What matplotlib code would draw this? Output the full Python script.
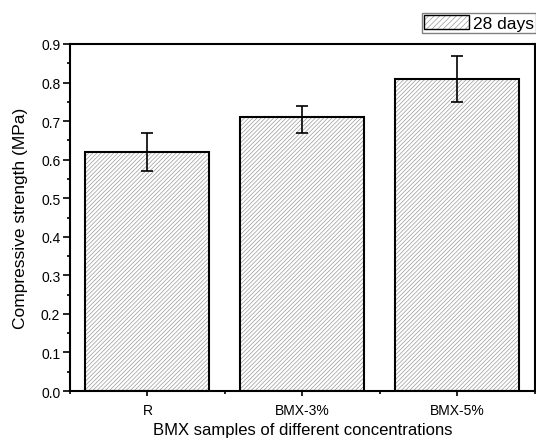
import matplotlib
matplotlib.use('Agg')
import matplotlib.pyplot as plt
from matplotlib.patches import Patch
from matplotlib.ticker import MultipleLocator, FixedLocator

plt.rcParams['font.family'] = ['Liberation Sans', 'DejaVu Sans']
plt.rcParams['hatch.linewidth'] = 0.5

# data
samples = ["R", "BMX-3%", "BMX-5%"]
strength = [0.62, 0.71, 0.81]
err_low = [0.05, 0.04, 0.06]
err_high = [0.05, 0.03, 0.06]
series_label = "28 days"

fig = plt.figure(figsize=(5.36, 4.39), dpi=100)
ax = fig.add_axes([0.1306, 0.107, 0.8674, 0.7905])

x = range(len(samples))
# hatch layer in grey, then black outline on top
ax.bar(x, strength, width=0.8, color='white', edgecolor='#9a9a9a',
       linewidth=0, hatch='////////', zorder=2)
ax.bar(x, strength, width=0.8, fill=False, edgecolor='black',
       linewidth=1.5, zorder=3)
ax.errorbar(x, strength, yerr=[err_low, err_high], fmt='none',
            ecolor='black', elinewidth=1.2, capsize=4, capthick=1.2, zorder=4)

ax.set_xlim(-0.5, 2.5)
ax.set_ylim(0, 0.9)
ax.set_xticks(list(x))
ax.set_xticklabels(samples)
ax.xaxis.set_minor_locator(FixedLocator([-0.5, 0.5, 1.5, 2.5]))
ax.yaxis.set_major_locator(MultipleLocator(0.1))
ax.yaxis.set_minor_locator(MultipleLocator(0.05))
ax.yaxis.set_major_formatter(plt.FuncFormatter(lambda v, p: '%.1f' % v))

ax.tick_params(axis='y', which='major', direction='out', length=5, width=1.2, labelsize=10, pad=2)
ax.tick_params(axis='y', which='minor', direction='out', length=2.5, width=1.2)
ax.tick_params(axis='x', which='major', direction='out', length=3.5, width=1.2, labelsize=10, pad=5)
ax.tick_params(axis='x', which='minor', direction='out', length=2.5, width=1.2)
ax.tick_params(top=False, right=False, which='both')
for s in ax.spines.values():
    s.set_linewidth(1.5)

ax.set_xlabel('BMX samples of different concentrations', fontsize=12, labelpad=4)
ax.set_ylabel('Compressive strength (MPa)', fontsize=12.5, labelpad=9)

hatch_patch = Patch(facecolor='white', edgecolor='#9a9a9a', linewidth=0, hatch='//////')
edge_patch = Patch(fill=False, edgecolor='black', linewidth=1.0)
leg = fig.legend([(hatch_patch, edge_patch)], [series_label], loc='upper right',
                 bbox_to_anchor=(1.0, 0.968), fontsize=12.5, fancybox=False,
                 edgecolor='#808080', framealpha=1, borderpad=0.1,
                 handlelength=2.6, handleheight=0.9, handletextpad=0.25,
                 borderaxespad=0)
leg.get_frame().set_linewidth(1.0)

fig.savefig('out.png', dpi=100)
